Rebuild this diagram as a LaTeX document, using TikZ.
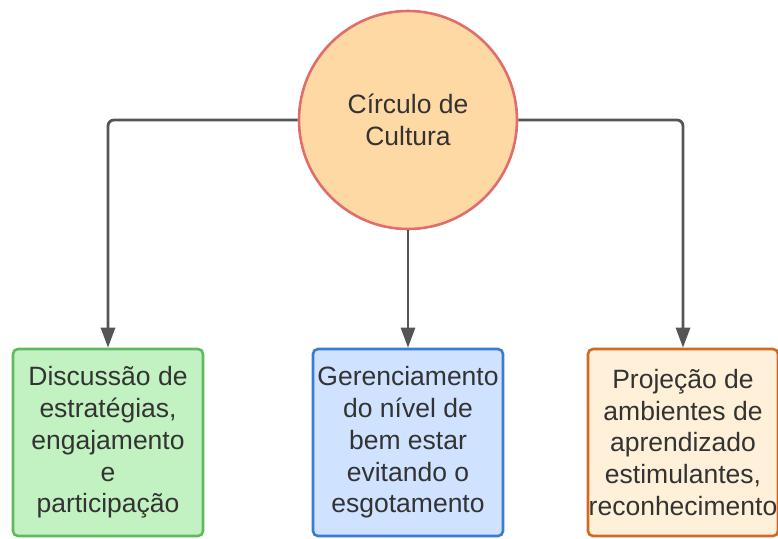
\documentclass[tikz,border=0pt]{standalone}
\usepackage{fontspec}
\setmainfont{Liberation Sans}
\usetikzlibrary{arrows.meta}
\definecolor{txt}{HTML}{333333}
\definecolor{conn}{HTML}{555555}
\definecolor{circfill}{HTML}{FFD9A3}
\definecolor{circdraw}{HTML}{E06C6C}
\definecolor{gfill}{HTML}{C2F2C2}
\definecolor{gdraw}{HTML}{5DBB5D}
\definecolor{bfill}{HTML}{CFE2FF}
\definecolor{bdraw}{HTML}{3A7BD5}
\definecolor{ofill}{HTML}{FFF1D9}
\definecolor{odraw}{HTML}{D2691E}
\tikzset{
  lbl/.style={font=\fontsize{26.5}{31.7}\selectfont, text=txt, align=center},
  boxnode/.style={lbl, rectangle, rounded corners=5pt, line width=2.6pt, minimum width=190pt, minimum height=187pt, inner sep=0pt},
  conline/.style={draw=conn, line width=2.8pt, rounded corners=6pt, -{Triangle[length=20pt,width=14pt]}}
}
\begin{document}
\begin{tikzpicture}[x=1pt,y=-1pt]
\useasboundingbox (0,0) rectangle (778,538);
\node[lbl, circle, fill=circfill, draw=circdraw, line width=2.6pt, minimum size=218pt, inner sep=0pt] (circ) at (408,120) {Círculo de\\Cultura};
\node[boxnode, fill=gfill, draw=gdraw] (b1) at (108,442.5) {Discussão de\\estratégias,\\engajamento\\e\\participação};
\node[boxnode, fill=bfill, draw=bdraw] (b2) at (408,442.5) {Gerenciamento\\do nível de\\bem estar\\evitando o\\esgotamento};
\node[boxnode, fill=ofill, draw=odraw] (b3) at (683,442.5) {Projeção de\\ambientes de\\aprendizado\\estimulantes,\\reconhecimento};
\draw[conline] (circ.west) -| (b1.north);
\draw[conline] (circ.south) -- (b2.north);
\draw[conline] (circ.east) -| (b3.north);
\end{tikzpicture}
\end{document}
